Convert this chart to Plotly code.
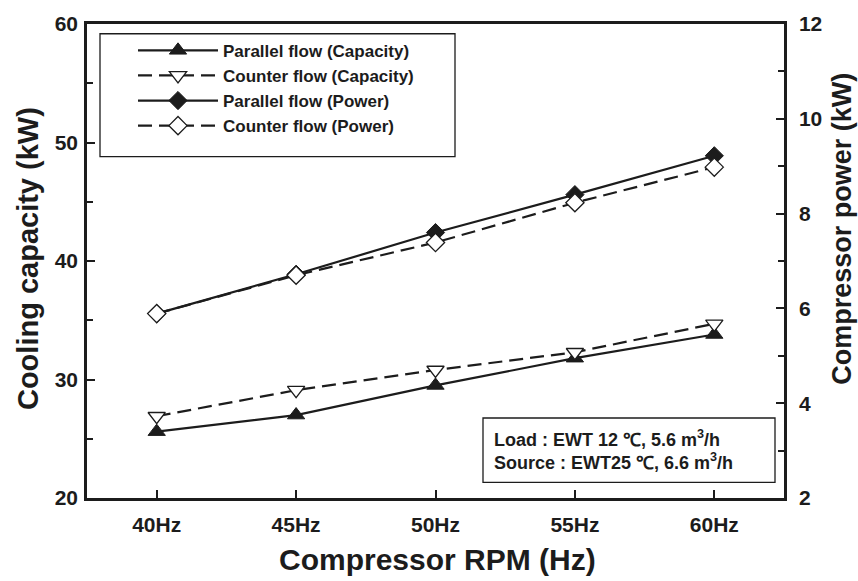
import plotly.graph_objects as go

categories = ["40Hz", "45Hz", "50Hz", "55Hz", "60Hz"]
parallel_capacity = [25.6, 27.0, 29.5, 31.8, 33.8]
counter_capacity = [26.9, 29.1, 30.8, 32.3, 34.7]
parallel_power = [5.89, 6.72, 7.60, 8.40, 9.22]
counter_power = [5.89, 6.70, 7.39, 8.23, 8.98]
series_names = ["Parallel flow (Capacity)", "Counter flow (Capacity)",
                "Parallel flow (Power)", "Counter flow (Power)"]

FONT = "Liberation Sans, Arial, sans-serif"
INK = "#1c1c1c"
DASH = "14px,7px"

# plot area in pixels: x 87..784, y 12..498
L, R, T, B = 87, 784, 12, 498
W, H = 858, 581
def px(x):
    return (x - L) / (R - L)
def py(y):
    return (B - y) / (B - T)

fig = go.Figure()
fig.add_trace(go.Scatter(
    x=categories, y=parallel_capacity, name=series_names[0], mode="lines+markers",
    line=dict(color=INK, width=2.2),
    marker=dict(symbol="triangle-up", size=15, color=INK, line=dict(color=INK, width=1))))
fig.add_trace(go.Scatter(
    x=categories, y=counter_capacity, name=series_names[1], mode="lines+markers",
    line=dict(color=INK, width=2.2, dash=DASH),
    marker=dict(symbol="triangle-down", size=15, color="white", line=dict(color=INK, width=1.3))))
fig.add_trace(go.Scatter(
    x=categories, y=parallel_power, name=series_names[2], mode="lines+markers", yaxis="y2",
    line=dict(color=INK, width=2.2),
    marker=dict(symbol="diamond", size=14, color=INK, line=dict(color=INK, width=1))))
fig.add_trace(go.Scatter(
    x=categories, y=counter_power, name=series_names[3], mode="lines+markers", yaxis="y2",
    line=dict(color=INK, width=2.2, dash=DASH),
    marker=dict(symbol="diamond", size=14, color="white", line=dict(color=INK, width=1.3))))

axis_common = dict(showline=True, linecolor=INK, linewidth=2.5, ticks="inside",
                   tickcolor=INK, tickwidth=2, ticklen=8, showgrid=False, zeroline=False,
                   tickfont=dict(family=FONT, size=21, color=INK, weight="bold"))

fig.update_layout(
    width=W, height=H,
    margin=dict(l=L, r=W - R, t=T, b=H - B, pad=0),
    paper_bgcolor="white", plot_bgcolor="white",
    font=dict(family=FONT, color=INK),
    xaxis=dict(type="category", range=[-0.5, 4.5], mirror=True, ticklabelstandoff=6,
               **axis_common),
    yaxis=dict(range=[20, 60], dtick=10, tick0=20, ticklabelstandoff=2,
               minor=dict(dtick=5, ticks="inside", ticklen=6, tickcolor=INK, tickwidth=2),
               **axis_common),
    yaxis2=dict(range=[2, 12], dtick=2, tick0=2, overlaying="y", side="right",
                ticklabelstandoff=8,
                minor=dict(dtick=1, ticks="inside", ticklen=6, tickcolor=INK, tickwidth=2),
                **axis_common),
    showlegend=True,
    legend=dict(x=px(133), y=py(21), xanchor="left", yanchor="top",
                bgcolor="rgba(0,0,0,0)", borderwidth=0, itemwidth=80,
                tracegroupgap=0,
                font=dict(family=FONT, size=17, color=INK, weight="bold")),
)

# legend frame
fig.add_shape(type="rect", xref="paper", yref="paper",
              x0=px(100), x1=px(455), y0=py(148), y1=py(22),
              line=dict(color=INK, width=1.3), fillcolor="rgba(0,0,0,0)")
# condition box
fig.add_shape(type="rect", xref="paper", yref="paper",
              x0=px(483), x1=px(775), y0=py(482), y1=py(416),
              line=dict(color=INK, width=1.3), fillcolor="white", layer="below")

cond_lines = ["Load : EWT 12 \u2103, 5.6 m<sup>3</sup>/h",
              "Source : EWT25 \u2103, 6.6 m<sup>3</sup>/h"]
for txt, yy in zip(cond_lines, [437, 461]):
    fig.add_annotation(text=txt, xref="paper", yref="paper", x=px(492), y=py(yy),
                       xanchor="left", yanchor="middle", showarrow=False,
                       font=dict(family=FONT, size=18, color=INK, weight="bold"))

# axis titles
fig.add_annotation(text="Compressor RPM (Hz)", xref="paper", yref="paper",
                   x=px(437), y=py(561), xanchor="center", yanchor="middle", showarrow=False,
                   font=dict(family=FONT, size=30, color=INK, weight="bold"))
fig.add_annotation(text="Cooling capacity (kW)", xref="paper", yref="paper",
                   x=px(28), y=py(253), xanchor="center", yanchor="middle", showarrow=False,
                   textangle=-90,
                   font=dict(family=FONT, size=29, color=INK, weight="bold"))
fig.add_annotation(text="Compressor power (kW)", xref="paper", yref="paper",
                   x=px(842), y=py(222), xanchor="center", yanchor="middle", showarrow=False,
                   textangle=-90,
                   font=dict(family=FONT, size=27, color=INK, weight="bold"))

fig.write_html("out.html")
